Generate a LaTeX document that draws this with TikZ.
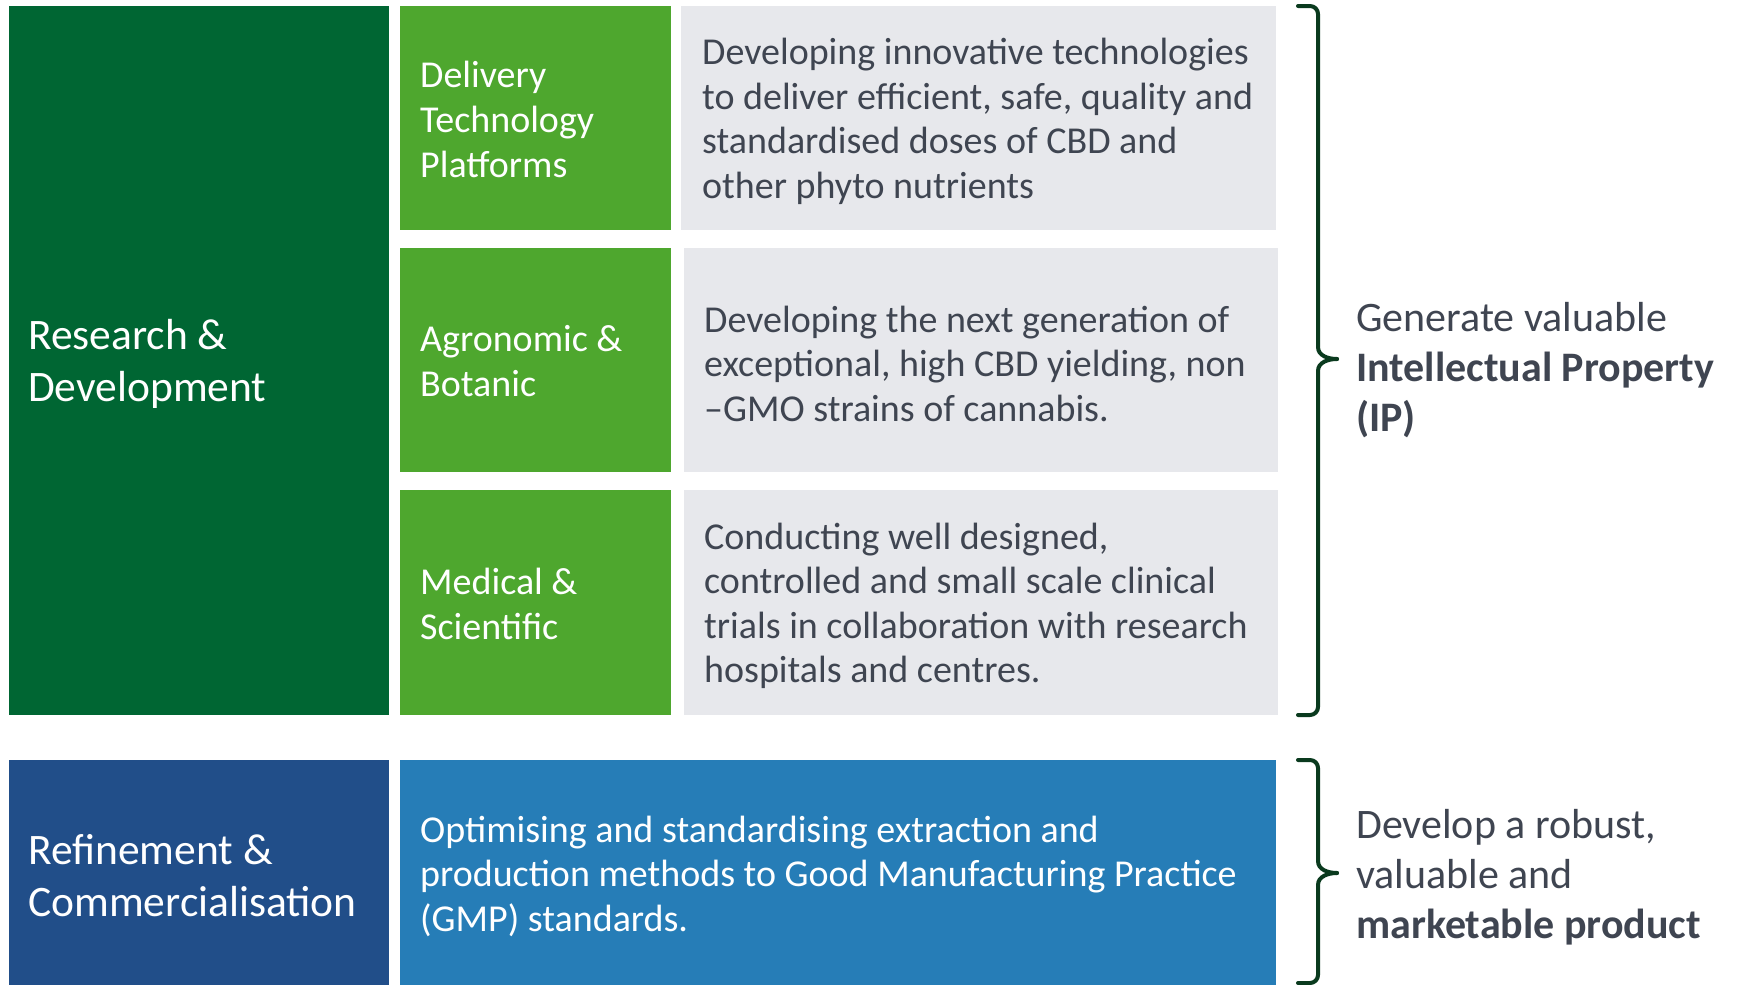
\documentclass[tikz,border=0pt]{standalone}
\usepackage{fontspec}
\setmainfont{Carlito}
\definecolor{dg}{HTML}{006633}
\definecolor{lg}{HTML}{4EA72E}
\definecolor{gr}{HTML}{E7E8EC}
\definecolor{db}{HTML}{214E89}
\definecolor{bl}{HTML}{267DB7}
\definecolor{tx}{HTML}{3F4551}
\definecolor{brc}{HTML}{0A3A1E}
\begin{document}
\begin{tikzpicture}[x=1pt,y=-1pt,
  tile/.style={anchor=north west, inner sep=0pt, outer sep=0pt, draw=none},
  label/.style={anchor=west, align=left, inner sep=0pt, yshift=-3.5pt},
  big/.style={font=\fontsize{43.5}{52}\selectfont, text=white},
  mid/.style={font=\fontsize{38}{45}\selectfont, text=white, yshift=2.5pt},
  desc/.style={font=\fontsize{38}{44.5}\selectfont},
  side/.style={font=\fontsize{42}{50}\selectfont, text=tx},
  brace/.style={draw=brc, line width=4pt, line cap=round, line join=round}]
\useasboundingbox (0,0) rectangle (1743,985);
% left column
\node[tile, fill=dg, minimum width=380pt, minimum height=709pt] (rd) at (9,6) {};
\node[label, big] (rdt) at ([xshift=19pt]rd.west) {Research \&\\Development};
\node[tile, fill=db, minimum width=380pt, minimum height=225pt] (rc) at (9,760) {};
\node[label, big] (rct) at ([xshift=19pt]rc.west) {Refinement \&\\Commercialisation};
% light green
\node[tile, fill=lg, minimum width=271pt, minimum height=224pt] (g1) at (400,6) {};
\node[label, mid] (g1t) at ([xshift=20pt]g1.west) {Delivery\\Technology\\Platforms};
\node[tile, fill=lg, minimum width=271pt, minimum height=224pt] (g2) at (400,248) {};
\node[label, mid] (g2t) at ([xshift=20pt]g2.west) {Agronomic \&\\Botanic};
\node[tile, fill=lg, minimum width=271pt, minimum height=225pt] (g3) at (400,490) {};
\node[label, mid] (g3t) at ([xshift=20pt]g3.west) {Medical \&\\Scientific};
% gray descriptions
\node[tile, fill=gr, minimum width=595pt, minimum height=224pt] (d1) at (681,6) {};
\node[label, desc, text=tx] (d1t) at ([xshift=21pt]d1.west) {Developing innovative technologies\\to deliver efficient, safe, quality and\\standardised doses of CBD and\\other phyto nutrients};
\node[tile, fill=gr, minimum width=594pt, minimum height=224pt] (d2) at (684,248) {};
\node[label, desc, text=tx] (d2t) at ([xshift=20pt]d2.west) {Developing the next generation of\\exceptional, high CBD yielding, non\\–GMO strains of cannabis.};
\node[tile, fill=gr, minimum width=594pt, minimum height=225pt] (d3) at (684,490) {};
\node[label, desc, text=tx] (d3t) at ([xshift=20pt]d3.west) {Conducting well designed,\\controlled and small scale clinical\\trials in collaboration with research\\hospitals and centres.};
% blue description
\node[tile, fill=bl, minimum width=876pt, minimum height=225pt] (b1) at (400,760) {};
\node[label, desc, text=white] (b1t) at ([xshift=20pt]b1.west) {Optimising and standardising extraction and\\production methods to Good Manufacturing Practice\\(GMP) standards.};
% braces
\coordinate (u1) at (1298,6);
\coordinate (u2) at (1298,715);
\coordinate (ut) at (1337,359);
\draw[brace] (u1) -- (1310,6) to[out=0,in=90] (1318,14) -- (1318,347) to[out=-90,in=180] (ut);
\draw[brace] (ut) to[out=180,in=90] (1318,371) -- (1318,707) to[out=-90,in=0] (1310,715) -- (u2);
\coordinate (l1) at (1298,760);
\coordinate (l2) at (1298,983);
\coordinate (lt) at (1337,873);
\draw[brace] (l1) -- (1310,760) to[out=0,in=90] (1318,768) -- (1318,861) to[out=-90,in=180] (lt);
\draw[brace] (lt) to[out=180,in=90] (1318,885) -- (1318,975) to[out=-90,in=0] (1310,983) -- (l2);
% side texts
\node[label, side] (s1) at (1356,367) {Generate valuable\\\textbf{Intellectual Property}\\\textbf{(IP)}};
\node[label, side] (s2) at (1356,874) {Develop a robust,\\valuable and\\\textbf{marketable product}};
\end{tikzpicture}
\end{document}
